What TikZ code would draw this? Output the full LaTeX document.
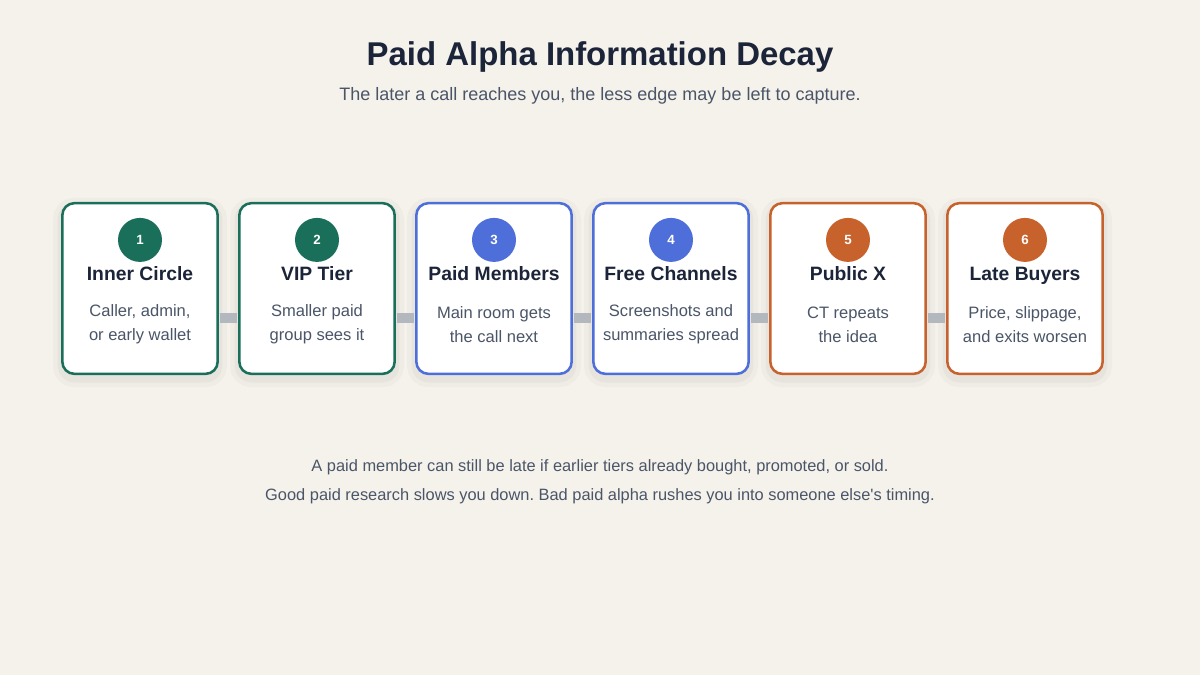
\documentclass[tikz,border=0pt]{standalone}
\usepackage{fontspec}
\setmainfont{Liberation Sans}
\frenchspacing
\usetikzlibrary{positioning}
\definecolor{paper}{HTML}{F5F2EB}
\definecolor{ink}{HTML}{1B2438}
\definecolor{sec}{HTML}{4A5568}
\definecolor{early}{HTML}{1A6F5B}
\definecolor{mid}{HTML}{4E6FD9}
\definecolor{late}{HTML}{C7622D}
\definecolor{rail}{HTML}{B3B8BF}
\tikzset{
  tier/.style={rounded corners=9pt, draw=#1, fill=white, line width=1.9pt,
               minimum width=116.5pt, minimum height=128pt,
               preaction={draw=black, draw opacity=0.025, line width=14pt, transform canvas={yshift=-3pt}},
               preaction={draw=black, draw opacity=0.03, line width=7pt, transform canvas={yshift=-3pt}}},
  badge/.style={circle, fill=#1, minimum size=33pt, inner sep=0pt,
                font=\bfseries\fontsize{10}{12}\selectfont, text=white},
  head/.style={anchor=base, inner sep=0pt, font=\bfseries\fontsize{14.5}{17}\selectfont, text=ink},
  desc/.style={align=center, inner sep=0pt, font=\fontsize{12.4}{18}\selectfont, text=sec},
  link/.style={draw=rail, line width=7.5pt, shorten <=1pt, shorten >=1pt},
}

\begin{document}
\begin{tikzpicture}[x=0.75pt, y=-0.75pt, node distance=14.35pt]
  \fill[paper] (0,0) rectangle (1200,675);
  \useasboundingbox (0,0) rectangle (1200,675);

  \node[anchor=base, font=\bfseries\fontsize{24.7}{29}\selectfont, text=ink] (title) at (600,65)
    {Paid Alpha Information Decay};
  \node[anchor=base, font=\fontsize{13.5}{16}\selectfont, text=sec] (sub) at (600,100)
    {The later a call reaches you, the less edge may be left to capture.};

  % tiers
  \node[tier=early] (t1) at (140,288.5) {};
  \node[tier=early, right=of t1] (t2) {};
  \node[tier=mid, right=of t2] (t3) {};
  \node[tier=mid, right=of t3] (t4) {};
  \node[tier=late, right=of t4] (t5) {};
  \node[tier=late, right=of t5] (t6) {};

  \draw[link] ([yshift=-22pt]t1.east) -- ([yshift=-22pt]t2.west);
  \draw[link] ([yshift=-22pt]t2.east) -- ([yshift=-22pt]t3.west);
  \draw[link] ([yshift=-22pt]t3.east) -- ([yshift=-22pt]t4.west);
  \draw[link] ([yshift=-22pt]t4.east) -- ([yshift=-22pt]t5.west);
  \draw[link] ([yshift=-22pt]t5.east) -- ([yshift=-22pt]t6.west);

  \node[badge=early] (n1) at ([yshift=-28.5pt]t1.north) {1};
  \node[head] (h1) at ([yshift=-58.8pt]t1.north) {Inner Circle};
  \node[desc] (d1) at ([yshift=-92pt]t1.north) {Caller, admin,\\or early wallet};

  \node[badge=early] (n2) at ([yshift=-28.5pt]t2.north) {2};
  \node[head] (h2) at ([yshift=-58.8pt]t2.north) {VIP Tier};
  \node[desc] (d2) at ([yshift=-92pt]t2.north) {Smaller paid\\group sees it};

  \node[badge=mid] (n3) at ([yshift=-28.5pt]t3.north) {3};
  \node[head] (h3) at ([yshift=-58.8pt]t3.north) {Paid Members};
  \node[desc] (d3) at ([yshift=-92pt]t3.north) {Main room gets\\the call next};

  \node[badge=mid] (n4) at ([yshift=-28.5pt]t4.north) {4};
  \node[head] (h4) at ([yshift=-58.8pt]t4.north) {Free Channels};
  \node[desc] (d4) at ([yshift=-92pt]t4.north) {Screenshots and\\summaries spread};

  \node[badge=late] (n5) at ([yshift=-28.5pt]t5.north) {5};
  \node[head] (h5) at ([yshift=-58.8pt]t5.north) {Public X};
  \node[desc] (d5) at ([yshift=-92pt]t5.north) {CT repeats\\the idea};

  \node[badge=late] (n6) at ([yshift=-28.5pt]t6.north) {6};
  \node[head] (h6) at ([yshift=-58.8pt]t6.north) {Late Buyers};
  \node[desc] (d6) at ([yshift=-92pt]t6.north) {Price, slippage,\\and exits worsen};

  % footnotes
  \node[anchor=base, font=\fontsize{12.3}{14}\selectfont, text=sec] (foot1) at (600,471)
    {A paid member can still be late if earlier tiers already bought, promoted, or sold.};
  \node[anchor=base, font=\fontsize{12.3}{14}\selectfont, text=sec] (foot2) at (600,500)
    {Good paid research slows you down. Bad paid alpha rushes you into someone else\textquotesingle s timing.};
\end{tikzpicture}
\end{document}
